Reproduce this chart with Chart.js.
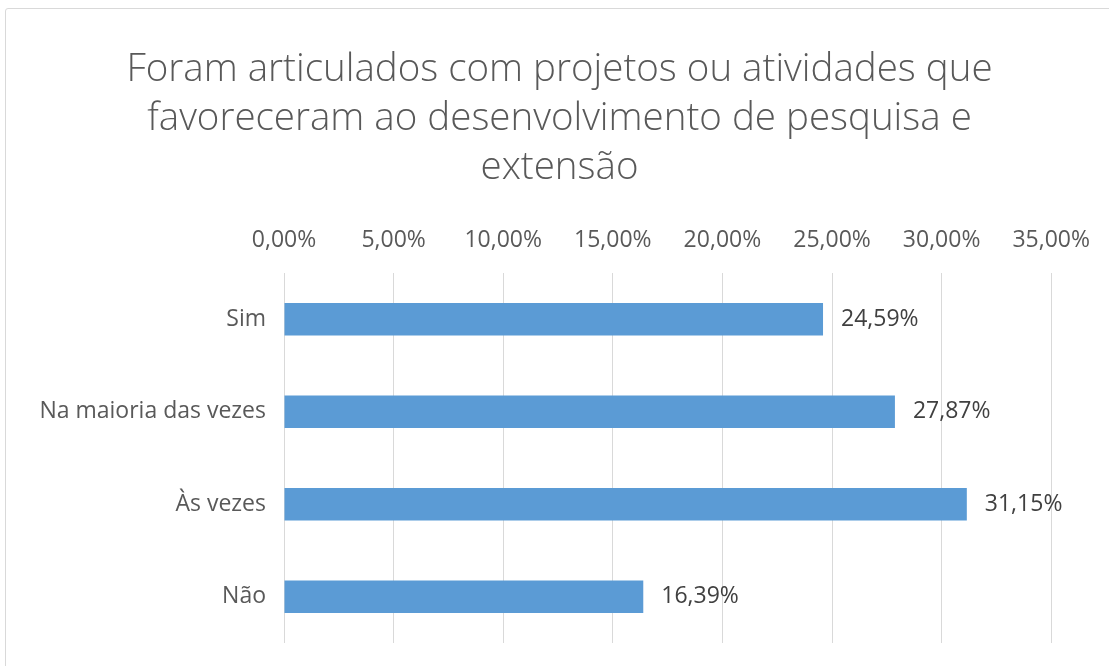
<!DOCTYPE html>
<html>
<head>
<meta charset="utf-8">
<script src="https://cdn.jsdelivr.net/npm/chart.js@4/dist/chart.umd.min.js"></script>
<style>
  html, body { margin: 0; padding: 0; background: #ffffff; }
  #wrap { position: relative; width: 1109px; height: 666px; overflow: hidden; }
  #frame { position: absolute; left: 5px; top: 8px; width: 1120px; height: 680px; border: 1px solid #d9d9d9; border-radius: 3px; box-sizing: border-box; }
  #title { position: absolute; left: 5px; top: 42px; width: 1109px; text-align: center;
           font-family: "Open Sans"; font-weight: 300; font-size: 38.5px; line-height: 49px; color: #595959; white-space: nowrap; }
  canvas { position: absolute; left: 0; top: 0; }
</style>
</head>
<body>
<div id="wrap">
  <div id="frame"></div>
  <canvas id="c" width="1109" height="666"></canvas>
  <div id="title"></div>
</div>
<script>
const titleLines = [
  "Foram articulados com projetos ou atividades que",
  "favoreceram ao desenvolvimento de pesquisa e",
  "extensão"
];
const categories = ["Sim", "Na maioria das vezes", "Às vezes", "Não"];
const values = [24.59, 27.87, 31.15, 16.39];
const tickMin = 0;
const tickMax = 35;
const tickStep = 5;

const fmt = v => v.toFixed(2).replace('.', ',') + '%';

const titleEl = document.getElementById('title');
titleLines.forEach(line => {
  const d = document.createElement('div');
  d.textContent = line;
  titleEl.appendChild(d);
});

const valueLabels = {
  id: 'valueLabels',
  afterDatasetsDraw(chart) {
    const ctx = chart.ctx;
    const meta = chart.getDatasetMeta(0);
    ctx.save();
    ctx.font = '23px "Open Sans"';
    ctx.fillStyle = '#404040';
    ctx.textAlign = 'left';
    ctx.textBaseline = 'middle';
    meta.data.forEach((bar, i) => {
      ctx.fillText(fmt(values[i]), bar.x + 18, bar.y);
    });
    ctx.restore();
  }
};

new Chart(document.getElementById('c'), {
  type: 'bar',
  data: {
    labels: categories,
    datasets: [{
      data: values,
      backgroundColor: '#5b9bd5',
      borderWidth: 0,
      barPercentage: 0.7,
      categoryPercentage: 0.5
    }]
  },
  options: {
    indexAxis: 'y',
    responsive: false,
    animation: false,
    layout: { padding: { left: 0, right: 52, top: 201, bottom: 23 } },
    plugins: {
      legend: { display: false },
      tooltip: { enabled: false },
      title: { display: false }
    },
    scales: {
      x: {
        position: 'top',
        min: tickMin,
        max: tickMax,
        afterFit(scale) { scale.height = 72; },
        ticks: {
          stepSize: tickStep,
          color: '#595959',
          font: { family: 'Open Sans', size: 23 },
          padding: 19,
          maxRotation: 0,
          callback: v => fmt(v)
        },
        grid: { color: '#d9d9d9', lineWidth: 1, drawTicks: false },
        border: { display: false }
      },
      y: {
        afterFit(scale) { scale.width = 284; scale.paddingTop = 0; scale.paddingBottom = 0; },
        ticks: {
          color: '#595959',
          font: { family: 'Open Sans', size: 23 },
          padding: 18
        },
        grid: { display: false, drawTicks: false },
        border: { display: false }
      }
    }
  },
  plugins: [valueLabels]
});
</script>
</body>
</html>
